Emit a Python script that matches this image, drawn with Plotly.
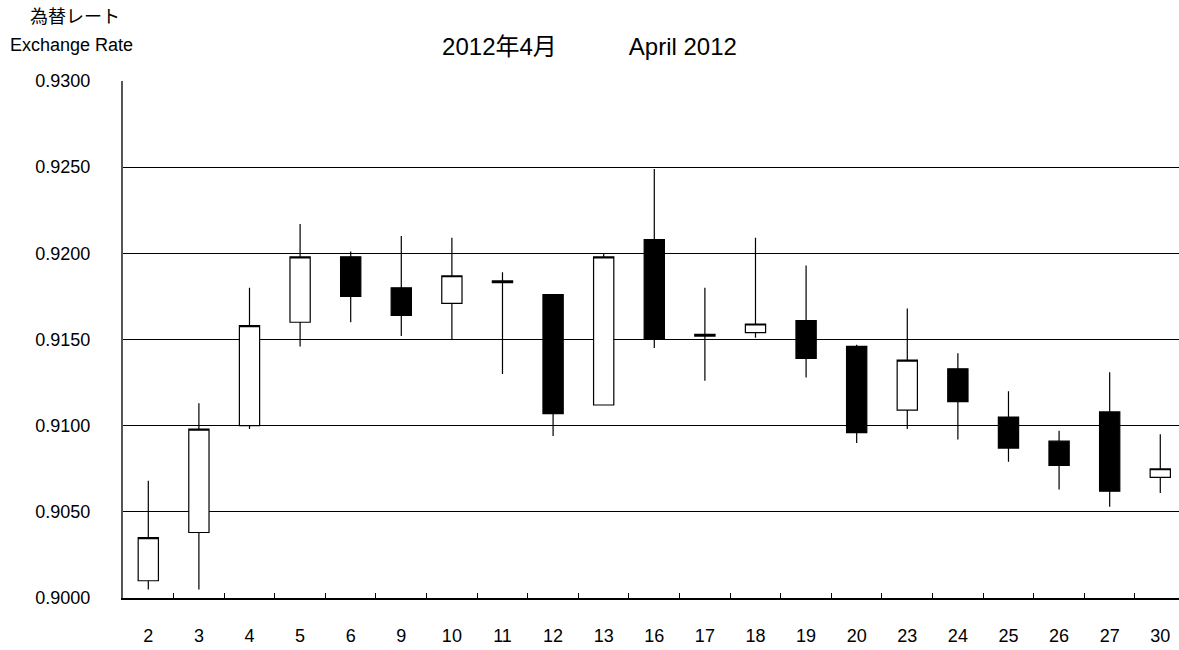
import plotly.graph_objects as go

days = ["2", "3", "4", "5", "6", "9", "10", "11", "12", "13", "16",
        "17", "18", "19", "20", "23", "24", "25", "26", "27", "30"]
open_ = [0.9010, 0.9038, 0.9100, 0.9160, 0.9198, 0.9180, 0.9171, 0.9183, 0.9176, 0.9112, 0.9208,
         0.9153, 0.9154, 0.9161, 0.9146, 0.9109, 0.9133, 0.9105, 0.9091, 0.9108, 0.9070]
high = [0.9068, 0.9113, 0.9180, 0.9217, 0.9201, 0.9210, 0.9209, 0.9189, 0.9176, 0.9200, 0.9249,
        0.9180, 0.9209, 0.9193, 0.9147, 0.9168, 0.9142, 0.9120, 0.9097, 0.9131, 0.9095]
low = [0.9005, 0.9005, 0.9098, 0.9146, 0.9160, 0.9152, 0.9150, 0.9130, 0.9094, 0.9112, 0.9145,
       0.9126, 0.9151, 0.9128, 0.9090, 0.9098, 0.9092, 0.9079, 0.9063, 0.9053, 0.9061]
close = [0.9035, 0.9098, 0.9158, 0.9198, 0.9175, 0.9164, 0.9187, 0.9184, 0.9107, 0.9198, 0.9150,
         0.9152, 0.9159, 0.9139, 0.9096, 0.9138, 0.9114, 0.9087, 0.9077, 0.9062, 0.9075]

y_ticks = [0.9000, 0.9050, 0.9100, 0.9150, 0.9200, 0.9250, 0.9300]

FONT = "Liberation Sans, Noto Sans CJK JP"

fig = go.Figure(go.Candlestick(
    x=days, open=open_, high=high, low=low, close=close,
    increasing=dict(fillcolor="white", line=dict(color="black", width=1.2)),
    decreasing=dict(fillcolor="black", line=dict(color="black", width=1.2)),
    whiskerwidth=0,
    showlegend=False,
    hoverinfo="x+y",
))

L, B, T = 123, 52, 81
W, H = 1179, 650
pw = W - L
ph = H - T - B

fig.update_layout(
    width=W, height=H,
    margin=dict(l=L, r=0, t=T, b=B),
    paper_bgcolor="white", plot_bgcolor="white",
    font=dict(family=FONT, size=18, color="black"),
    boxgap=0.6, boxgroupgap=0,
    title=dict(text="2012年4月　　　April 2012", x=0.5, xref="container",
               y=1 - 47 / H, yref="container", yanchor="middle",
               font=dict(size=24)),
    xaxis=dict(
        type="category",
        range=[-0.5, 20.37],
        rangeslider=dict(visible=False),
        showgrid=False,
        showline=True, linecolor="black", linewidth=1.5,
        ticks="inside", tickson="boundaries", ticklen=5, tickcolor="black",
        ticklabelstandoff=21,
        tickfont=dict(size=18),
    ),
    yaxis=dict(
        range=[0.9, 0.93],
        tickvals=y_ticks,
        tickformat=".4f",
        showgrid=True, gridcolor="black", gridwidth=1,
        showline=True, linecolor="#555", linewidth=2,
        zeroline=False,
        ticks="",
        ticklabelstandoff=27,
        tickfont=dict(size=18),
    ),
    annotations=[
        dict(text="為替レート", x=(75 - L) / pw, y=1 + (T - 17) / ph,
             xref="paper", yref="paper", showarrow=False,
             xanchor="center", yanchor="middle", font=dict(size=18)),
        dict(text="Exchange Rate", x=(71 - L) / pw, y=1 + (T - 45) / ph,
             xref="paper", yref="paper", showarrow=False,
             xanchor="center", yanchor="middle", font=dict(size=18)),
    ],
)

fig.write_html("out.html", config={"displayModeBar": False},
               post_script="document.body.style.margin='0';")
